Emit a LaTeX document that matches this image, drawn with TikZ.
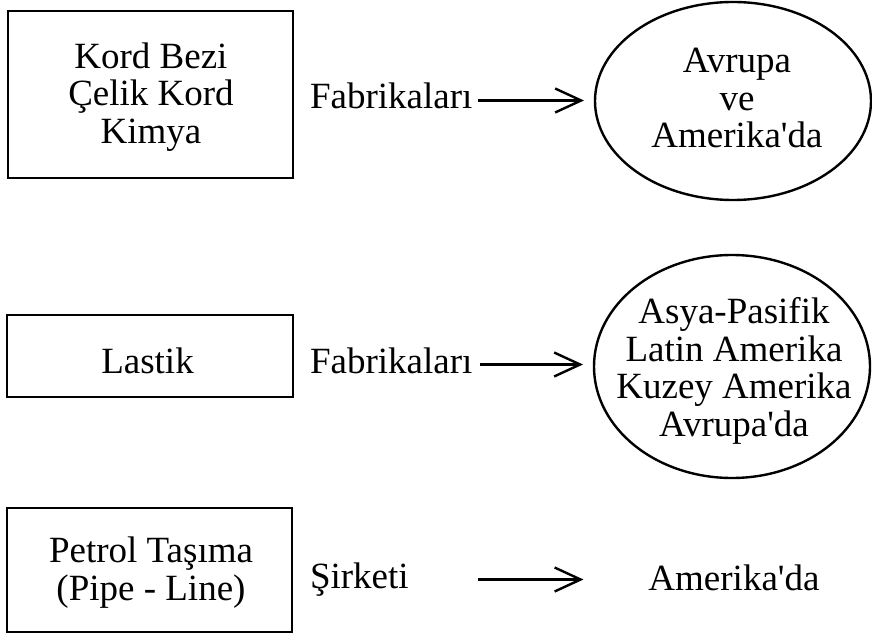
\documentclass[tikz,border=0pt]{standalone}
\usepackage{fontspec}
\setmainfont{Liberation Serif}
\usetikzlibrary{shapes.geometric,arrows.meta}
% uniform line height for stacked labels
\newcommand\lstrut{\rule[-9pt]{0pt}{35pt}}
\newcommand\apos{\textquotesingle}
\begin{document}
\begin{tikzpicture}[x=1pt,y=-1pt,
  every node/.style={inner sep=0pt,outer sep=0pt},
  txt/.style={font=\fontsize{37}{37.5}\selectfont,align=center},
  frame/.style={draw,line width=2.4pt,rectangle},
  oval/.style={draw,line width=2.4pt,ellipse},
  arr/.style={line width=2.4pt,-{Straight Barb[length=26pt,width=24pt]}}]
\useasboundingbox (0,0) rectangle (872,639);

% source boxes
\node[frame,minimum width=285pt,minimum height=167pt] (box1) at (150.5,94.5) {};
\node[frame,minimum width=286pt,minimum height=82pt]  (box2) at (150,356) {};
\node[frame,minimum width=285pt,minimum height=124pt] (box3) at (149.5,570) {};
\node[txt] (t1) at (151,97.5) {\lstrut Kord Bezi\\\lstrut Çelik Kord\\\lstrut Kimya};
\node[txt] (t2) at (147.5,364.5) {\lstrut Lastik};
\node[txt] (t3) at (151,573) {\lstrut Petrol Taşıma\\\lstrut (Pipe - Line)};

% middle labels
\node[txt,anchor=west] (f1) at (310,100.5) {\lstrut Fabrikaları};
\node[txt,anchor=west] (f2) at (310,364.5) {\lstrut Fabrikaları};
\node[txt,anchor=west] (s3) at (310,579.5) {\lstrut Şirketi};

% destinations
\node[oval,minimum width=276pt,minimum height=198pt] (e1) at (733,101) {};
\node[oval,minimum width=276pt,minimum height=223pt] (e2) at (732,366.5) {};
\node[txt] (d1) at (737,101.8) {\lstrut Avrupa\\\lstrut ve\\\lstrut Amerika\apos da};
\node[txt] (d2) at (734,371.25) {\lstrut Asya-Pasifik\\\lstrut Latin Amerika\\\lstrut Kuzey Amerika\\\lstrut Avrupa\apos da};
\node[txt] (d3) at (734,581.5) {\lstrut Amerika\apos da};

% arrows
\draw[arr,shorten <=6pt,shorten >=11pt] (f1.east) -- (f1.east -| e1.west);
\draw[arr,shorten <=8pt,shorten >=11pt] (f2.east) -- (f2.east -| e2.west);
\draw[arr,shorten <=69pt,shorten >=65pt] (s3.east) -- (s3.east -| d3.west);
\end{tikzpicture}
\end{document}
